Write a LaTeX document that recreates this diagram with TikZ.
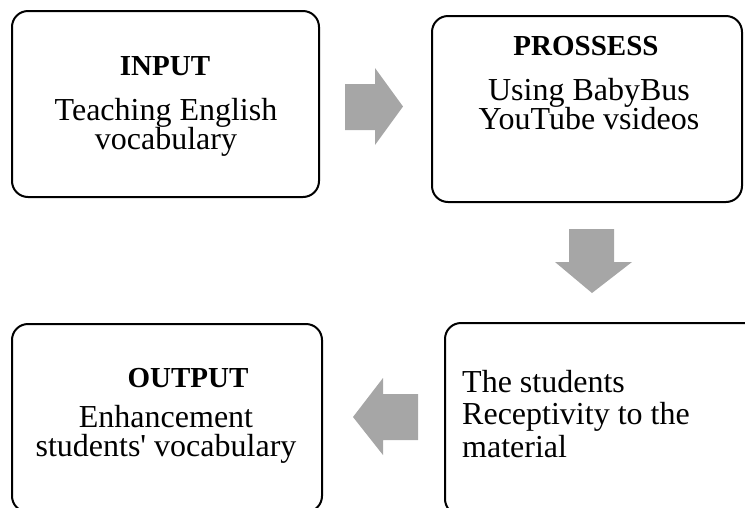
\documentclass[tikz,border=0pt]{standalone}
\usepackage{fontspec}
\setmainfont{Liberation Serif}
\begin{document}
\begin{tikzpicture}[x=1pt,y=-1pt,
  box/.style={draw=black,line width=2pt,rounded corners=16pt,inner sep=0pt},
  ttl/.style={inner sep=0pt,anchor=base,font=\fontsize{29}{30}\selectfont\bfseries},
  txt/.style={inner sep=0pt,anchor=base,font=\fontsize{32}{30}\selectfont},
  blk/.style={fill=black!35,draw=none}]
\useasboundingbox (0,0) rectangle (745,507);
\begin{scope}
\clip (0,0) rectangle (745,507);
\node[box,minimum width=307pt,minimum height=186pt] (in) at (165.5,104) {};
\node[box,minimum width=310pt,minimum height=186pt] (pr) at (587,109) {};
\node[box,minimum width=315pt,minimum height=192pt] (re) at (602.5,419) {};
\node[box,minimum width=310pt,minimum height=188pt] (out) at (167,418) {};
\end{scope}
% texts
\node[ttl] (inT) at (165,75) {INPUT};
\node[txt] (inA) at (166,120) {Teaching English};
\node[txt] (inB) at (166,149) {vocabulary};
\node[ttl] (prT) at (586,55) {PROSSESS};
\node[txt] (prA) at (589,100) {Using BabyBus};
\node[txt] (prB) at (589,129) {YouTube vsideos};
\node[txt,anchor=base west] (reA) at (462,392) {The students};
\node[txt,anchor=base west] (reB) at (462,424) {Receptivity to the};
\node[txt,anchor=base west] (reC) at (462,457) {material};
\node[ttl] (outT) at (188,387) {OUTPUT};
\node[txt] (outA) at (166,427) {Enhancement};
\node[txt] (outB) at (166,456) {students\textquotesingle{} vocabulary};
% block arrows
\fill[blk] (345,84) -- (375,84) -- (375,68) -- (403,106.5) -- (375,145) -- (375,130) -- (345,130) -- cycle;
\fill[blk] (569,229) -- (614,229) -- (614,262) -- (632,262) -- (592,293) -- (555,262) -- (569,262) -- cycle;
\fill[blk] (418,394) -- (383,394) -- (383,378) -- (353,417) -- (383,455) -- (383,440) -- (418,440) -- cycle;
\end{tikzpicture}
\end{document}
